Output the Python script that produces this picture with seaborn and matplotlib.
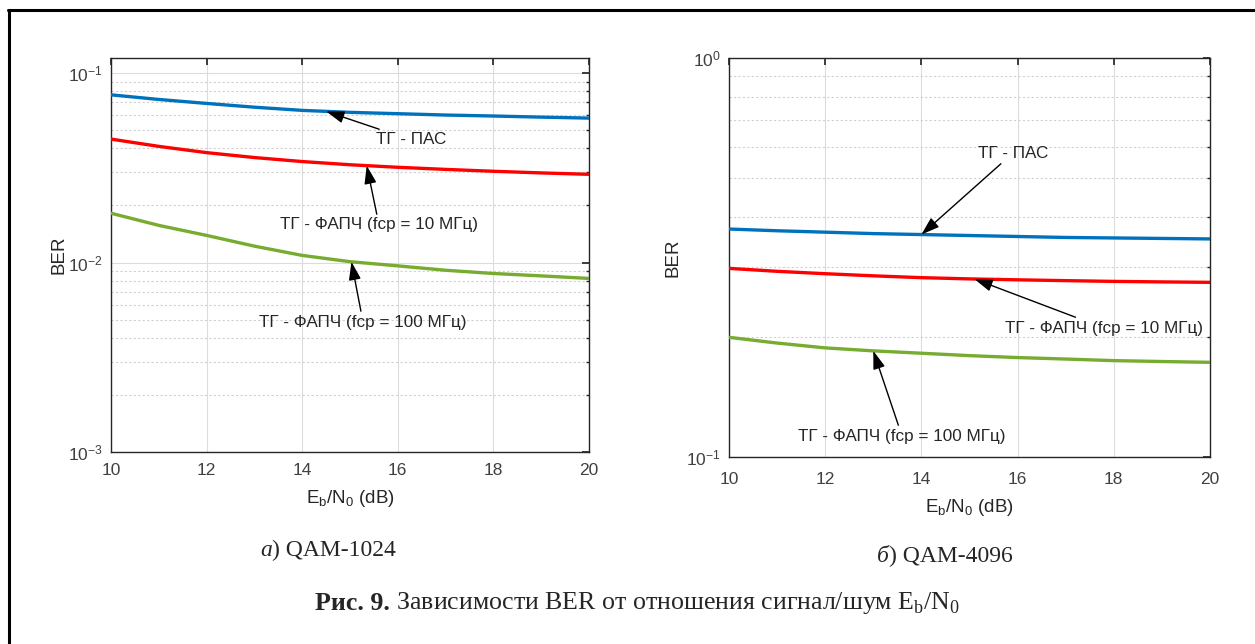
import numpy as np
import pandas as pd
import matplotlib
matplotlib.use("Agg")
import matplotlib.pyplot as plt
from matplotlib.lines import Line2D
from matplotlib.ticker import LogLocator, NullFormatter
import seaborn as sns

# ---------------- data ----------------
ebn0 = [10, 11, 12, 13, 14, 15, 16, 17, 18, 19, 20]
series_names = ["ТГ - ПАС", "ТГ - ФАПЧ (fcp = 10 МГц)", "ТГ - ФАПЧ (fcp = 100 МГц)"]

qam1024_pas = [0.0767, 0.0725, 0.0691, 0.0660, 0.0635, 0.0620, 0.0610, 0.0600, 0.0593, 0.0585, 0.0578]
qam1024_pll10 = [0.0448, 0.0410, 0.0380, 0.0358, 0.0341, 0.0328, 0.0318, 0.0310, 0.0303, 0.0297, 0.0292]
qam1024_pll100 = [0.0182, 0.0157, 0.0139, 0.0122, 0.0109, 0.0101, 0.0096, 0.0091, 0.00875, 0.0085, 0.00824]

qam4096_pas = [0.3727, 0.369, 0.366, 0.363, 0.361, 0.359, 0.357, 0.355, 0.354, 0.353, 0.352]
qam4096_pll10 = [0.297, 0.292, 0.288, 0.2845, 0.2815, 0.2795, 0.278, 0.2767, 0.2755, 0.2747, 0.274]
qam4096_pll100 = [0.1995, 0.193, 0.1877, 0.1845, 0.182, 0.1795, 0.1775, 0.176, 0.1744, 0.1735, 0.1727]

xticks = [10, 12, 14, 16, 18, 20]
colors = ["#0072BD", "#FF0000", "#77AC30"]

caption_a = ("а", ") QAM-1024")
caption_b = ("б", ") QAM-4096")
fig_caption = ("Рис. 9.", " Зависимости BER от отношения сигнал/шум E$_\\mathregular{b}$/N$_\\mathregular{0}$")

# ---------------- style ----------------
sns.set_theme(style="white")
plt.rcParams["font.family"] = ["Liberation Sans", "DejaVu Sans"]
plt.rcParams["axes.edgecolor"] = "#262626"
plt.rcParams["xtick.color"] = "#262626"
plt.rcParams["ytick.color"] = "#262626"

W, H = 1255, 644
fig = plt.figure(figsize=(12.55, 6.44), dpi=100)

ax1 = fig.add_axes([111 / W, 1 - 452 / H, 478 / W, 394 / H])
ax2 = fig.add_axes([729 / W, 1 - 457 / H, 481 / W, 399 / H])


def make_df(vals):
    rows = []
    for name, v in zip(series_names, vals):
        for x, y in zip(ebn0, v):
            rows.append({"x": x, "y": y, "series": name})
    return pd.DataFrame(rows)


df1 = make_df([qam1024_pas, qam1024_pll10, qam1024_pll100])
df2 = make_df([qam4096_pas, qam4096_pll10, qam4096_pll100])

for ax, df, ylim in [(ax1, df1, (1e-3, 0.12)), (ax2, df2, (0.1, 1.0))]:
    sns.lineplot(data=df, x="x", y="y", hue="series", palette=colors,
                 linewidth=2.4, ax=ax, legend=False, zorder=3)
    ax.set_yscale("log")
    ax.set_xlim(10, 20)
    ax.set_ylim(*ylim)
    ax.set_xticks(xticks)
    ax.yaxis.set_major_locator(LogLocator(base=10, numticks=10))
    ax.yaxis.set_minor_locator(LogLocator(base=10, subs=np.arange(2, 10), numticks=20))
    ax.yaxis.set_minor_formatter(NullFormatter())
    ax.grid(True, which="major", axis="both", color="#dcdcdc", linewidth=0.8, linestyle="-")
    ax.grid(True, which="minor", axis="y", color="#d0d0d0", linewidth=0.8, linestyle=(0, (2, 2)))
    ax.tick_params(which="both", direction="in", top=True, right=True,
                   labelsize=12.5, labelcolor="#404040")
    ax.tick_params(axis="y", which="major", length=5, pad=6)
    ax.tick_params(which="minor", length=2)
    for s in ax.spines.values():
        s.set_linewidth(1.0)
        s.set_color("#262626")
    ax.set_xlabel("E$_\\mathregular{b}$/N$_\\mathregular{0}$ (dB)", fontsize=13.5, color="#262626", labelpad=7)
    ax.set_ylabel("BER", fontsize=13.5, color="#262626")
    ax.set_facecolor("white")

ax1.tick_params(axis="x", which="major", length=5, pad=8)
ax2.tick_params(axis="x", which="major", length=5, pad=11)
ax1.yaxis.labelpad = 0.5
ax2.yaxis.labelpad = 3

arrow = dict(arrowstyle="-|>,head_length=0.9,head_width=0.3", color="black", lw=1.0,
             shrinkA=0, shrinkB=0)
ann_fs = 12.3


def fp(x, y):
    """figure-pixel coordinates measured from the top-left corner"""
    return (x / W, 1 - y / H)


# left annotations
ax1.annotate(series_names[0], xy=(14.5, np.interp(14.5, ebn0, qam1024_pas)),
             xytext=fp(376, 140), textcoords="figure fraction", fontsize=ann_fs,
             ha="left", va="center", arrowprops=arrow)
ax1.annotate(series_names[1], xy=(15.35, np.interp(15.35, ebn0, qam1024_pll10)),
             xytext=fp(379, 225), textcoords="figure fraction", fontsize=ann_fs,
             ha="center", va="center", arrowprops=arrow)
ax1.annotate(series_names[2], xy=(15.03, np.interp(15.03, ebn0, qam1024_pll100)),
             xytext=fp(363, 322), textcoords="figure fraction", fontsize=ann_fs,
             ha="center", va="center", arrowprops=arrow)

# right annotations
ax2.annotate(series_names[0], xy=(14.0, np.interp(14.0, ebn0, qam4096_pas)),
             xytext=fp(1013, 153), textcoords="figure fraction", fontsize=ann_fs,
             ha="center", va="center", arrowprops=arrow)
ax2.annotate(series_names[1], xy=(15.1, np.interp(15.1, ebn0, qam4096_pll10)),
             xytext=fp(1104, 328), textcoords="figure fraction", fontsize=ann_fs,
             ha="center", va="center", arrowprops=arrow)
ax2.annotate(series_names[2], xy=(13.0, np.interp(13.0, ebn0, qam4096_pll100)),
             xytext=fp(902, 436), textcoords="figure fraction", fontsize=ann_fs,
             ha="center", va="center", arrowprops=arrow)

# captions
serif = ["Liberation Serif", "DejaVu Serif"]
cap_fs = 17
fig.text(*fp(272, 550), caption_a[0], family=serif, style="italic",
         fontsize=cap_fs, ha="right", va="center")
fig.text(*fp(272, 550), caption_a[1], family=serif,
         fontsize=cap_fs, ha="left", va="center")
fig.text(*fp(889, 556), caption_b[0], family=serif, style="italic",
         fontsize=cap_fs, ha="right", va="center")
fig.text(*fp(889, 556), caption_b[1], family=serif,
         fontsize=cap_fs, ha="left", va="center")
fig.text(*fp(390, 603), fig_caption[0], family=serif, weight="bold",
         fontsize=18.6, ha="right", va="center")
fig.text(*fp(390, 603), fig_caption[1], family=serif,
         fontsize=18.6, ha="left", va="center")

# outer frame (top and left)
fig.add_artist(Line2D([8 / W, 1.0], [1 - 9.5 / H, 1 - 9.5 / H], color="black", lw=2.2,
                      transform=fig.transFigure))
fig.add_artist(Line2D([8.5 / W, 8.5 / W], [0.0, 1 - 9.5 / H], color="black", lw=2.2,
                      transform=fig.transFigure))

fig.savefig("out.png", dpi=100, facecolor="white")
